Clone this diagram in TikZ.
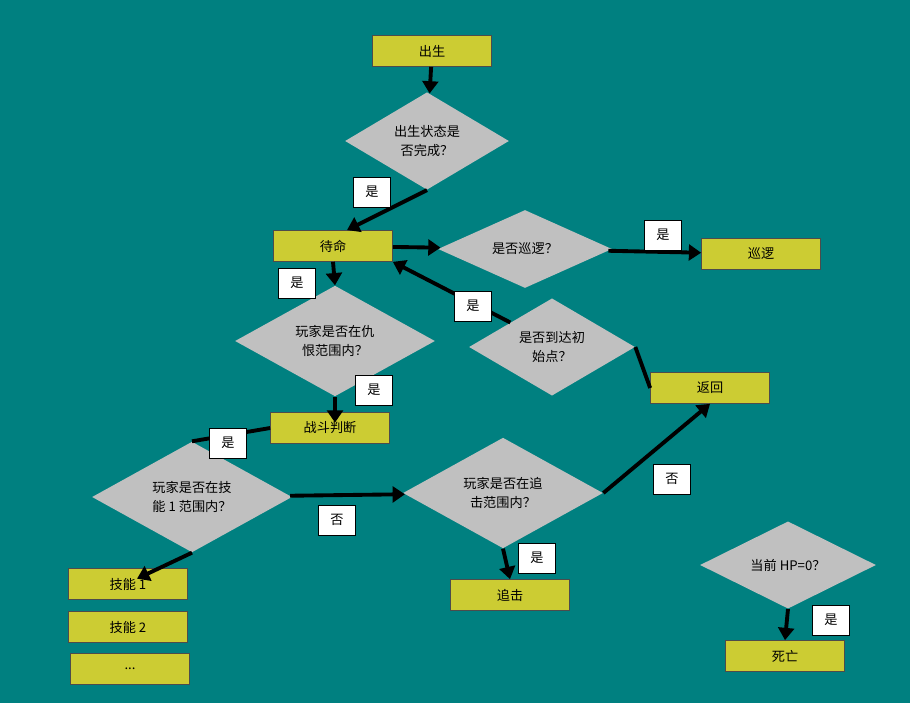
\documentclass[tikz,border=0pt]{standalone}
\usepackage{fontspec}
\setmainfont{Liberation Serif}
\newfontfamily\cjk{Noto Sans CJK SC}
\usetikzlibrary{shapes.geometric,arrows.meta}
\definecolor{bgteal}{RGB}{0,128,128}
\definecolor{boxolive}{RGB}{204,204,51}
\definecolor{diagray}{RGB}{192,192,192}
\tikzset{
  every node/.style={font=\cjk\fontsize{7.5}{11}\selectfont},
  stepbox/.style={draw=black!70,fill=boxolive,minimum width=2.38cm,minimum height=0.62cm,inner sep=0pt},
  decide/.style={diamond,fill=diagray,inner sep=0pt,align=center,minimum width=#1},
  yeslabel/.style={draw=black,fill=white,minimum width=0.74cm,minimum height=0.6cm,inner sep=0pt},
  flow/.style={line width=2.2pt,-{Triangle[length=7pt,width=9pt]}},
  link/.style={line width=2.2pt}
}
\begin{document}
\begin{tikzpicture}[x=0.02cm,y=-0.02cm]
\fill[bgteal] (0,0) rectangle (910,703);
\useasboundingbox (0,0) rectangle (910,703);
% boxes
\node[stepbox] (born) at (432,51) {出生};
\node[stepbox] (idle) at (333,246) {待命};
\node[stepbox] (patrol) at (761,254) {巡逻};
\node[stepbox] (fight) at (330,428) {战斗判断};
\node[stepbox] (back) at (710,388) {返回};
\node[stepbox] (chase) at (510,595) {追击};
\node[stepbox] (dead) at (785,656) {死亡};
\node[stepbox] (skillA) at (128,584) {技能 1};
\node[stepbox] (skillB) at (128,627) {技能 2};
\node[stepbox] (skillC) at (130,669) {...};
% decisions
\node[decide=3.28cm,minimum height=1.76cm] (bornok) at (427,141) {出生状态是\\否完成？};
\node[decide=3.48cm,minimum height=1.56cm] (ispatrol) at (525,249) {是否巡逻？};
\node[decide=4cm,minimum height=1.8cm] (hate) at (335,341) {玩家是否在仇\\恨范围内？};
\node[decide=4cm,minimum height=1.72cm] (skillrange) at (192,497) {玩家是否在技\\能 1 范围内？};
\node[decide=4cm,minimum height=1.76cm] (chaserange) at (503,493) {玩家是否在追\\击范围内？};
\node[decide=3.32cm,minimum height=1.76cm] (home) at (552,347) {是否到达初\\始点？};
\node[decide=3.52cm,minimum height=1.6cm] (hp) at (788,565) {当前 HP=0？};
% connectors
\draw[flow] (born) -- (bornok);
\draw[flow] (bornok.south) -- ++(-80,40);
\draw[flow] (idle) -- (ispatrol);
\draw[flow] (ispatrol) -- (patrol);
\draw[flow] (idle.south) -- (hate.north);
\draw[flow] (hate.south) -- ++(0,26);
\draw[link] (fight.west) -- (skillrange.north);
\draw[flow] (skillrange.south) -- ++(-55,26);
\draw[flow] (skillrange) -- (chaserange);
\draw[flow] (chaserange.south) -- (chase.north);
\draw[flow] (chaserange.east) -- (back.south);
\draw[link] (back.west) -- (home.east);
\draw[flow] (home.north west) -- (idle.south east);
\draw[flow] (hp.south) -- (dead.north);
% labels
\node[yeslabel] (y1) at (372,192) {是};
\node[yeslabel] (y2) at (663,235) {是};
\node[yeslabel] (y3) at (297,283) {是};
\node[yeslabel] (y4) at (374,390) {是};
\node[yeslabel] (y5) at (228,443) {是};
\node[yeslabel] (n1) at (337,520) {否};
\node[yeslabel] (y6) at (537,558) {是};
\node[yeslabel] (n2) at (672,479) {否};
\node[yeslabel] (y7) at (473,306) {是};
\node[yeslabel] (y8) at (831,620) {是};
\end{tikzpicture}
\end{document}
